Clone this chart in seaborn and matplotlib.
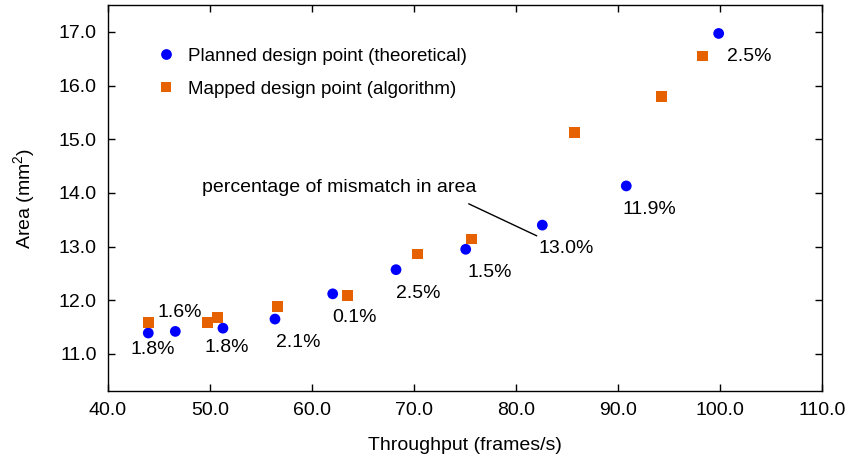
import matplotlib
matplotlib.use("Agg")
import matplotlib.pyplot as plt
import matplotlib.transforms as mtransforms
import seaborn as sns
import pandas as pd
import numpy as np

# --- data ---
planned_tp = [43.95, 46.6, 51.27, 56.37, 62.03, 68.24, 75.07, 82.58, 90.81, 99.87]
planned_area = [11.39, 11.42, 11.48, 11.65, 12.12, 12.57, 12.95, 13.40, 14.13, 16.97]
mapped_tp = [43.95, 49.74, 50.72, 56.6, 63.46, 70.32, 75.62, 85.72, 94.25, 98.26]
mapped_area = [11.59, 11.59, 11.68, 11.89, 12.09, 12.86, 13.14, 15.13, 15.80, 16.55]
mismatch = ["1.8%", "1.6%", "1.8%", "2.1%", "0.1%", "2.5%", "1.5%", "13.0%", "11.9%", "2.5%"]
# label placement (pixels from the planned point, text left / baseline)
lbl_dx = [-18, -18, -18, 1, 0, 0, 2, -4, -4, 8]
lbl_dy = [-21, 14, -24, -28, -28, -28, -28, -28, -28, -28]

lab_planned = "Planned design point (theoretical)"
lab_mapped = "Mapped design point (algorithm)"

df = pd.concat([
    pd.DataFrame({"tp": planned_tp, "area": planned_area, "kind": lab_planned}),
    pd.DataFrame({"tp": mapped_tp, "area": mapped_area, "kind": lab_mapped}),
], ignore_index=True)

sns.set_style("ticks")
plt.rcParams["font.family"] = ["Liberation Sans", "DejaVu Sans"]
plt.rcParams["mathtext.fontset"] = "custom"
plt.rcParams["mathtext.rm"] = "Liberation Sans"
plt.rcParams["text.color"] = "black"
plt.rcParams["axes.labelcolor"] = "black"
plt.rcParams["xtick.labelcolor"] = "black"
plt.rcParams["ytick.labelcolor"] = "black"
fs = 14

fig = plt.figure(figsize=(8.51, 4.67), dpi=100)
ax = fig.add_axes([108/851, 1-391/467, (822-108)/851, (391-5)/467])

sns.scatterplot(data=df, x="tp", y="area", hue="kind", style="kind",
                palette={lab_planned: "#0000ff", lab_mapped: "#e66100"},
                markers={lab_planned: "o", lab_mapped: "s"},
                s=60, linewidth=0, ax=ax)

for i, t in enumerate(mismatch):
    ax.annotate(t, xy=(planned_tp[i], planned_area[i]), xytext=(lbl_dx[i], lbl_dy[i]),
                textcoords="offset pixels", ha="left", va="baseline", fontsize=fs)

# callout for the mismatch labels
end_tr = mtransforms.offset_copy(ax.transData, fig=fig, x=-5.6, y=-10.7, units="dots")
ax.annotate("", xy=(planned_tp[7], planned_area[7]), xycoords=end_tr,
            xytext=(-68, 32), textcoords="offset pixels",
            arrowprops=dict(arrowstyle="-", color="black", lw=1.0, shrinkA=0, shrinkB=0))
ax.annotate("percentage of mismatch in area", xy=(planned_tp[7], planned_area[7]), xycoords=end_tr,
            xytext=(-335, 44), textcoords="offset pixels", ha="left", va="baseline", fontsize=fs)

ax.set_xlim(40, 110)
ax.set_ylim(10.31, 17.5)
ax.set_xticks(np.arange(40, 111, 10))
ax.set_yticks(np.arange(11, 17.1, 1))
ax.xaxis.set_major_formatter(matplotlib.ticker.FormatStrFormatter("%.1f"))
ax.yaxis.set_major_formatter(matplotlib.ticker.FormatStrFormatter("%.1f"))
ax.tick_params(direction="in", length=5, width=1, top=True, right=True,
               labelsize=fs, pad=8, color="black")
for sp in ax.spines.values():
    sp.set_visible(True)
    sp.set_color("black")
    sp.set_linewidth(1.0)

ax.set_xlabel("Throughput (frames/s)", fontsize=fs, labelpad=13)
ax.set_ylabel("Area (mm$^2$)", fontsize=fs, labelpad=15)

leg = ax.legend(loc="upper left", frameon=False, fontsize=13.5, labelspacing=0.86,
                handletextpad=0.18, borderaxespad=0, bbox_to_anchor=(32/714, 1-35/386))
leg.set_title(None)

fig.savefig("out.png", dpi=100)
